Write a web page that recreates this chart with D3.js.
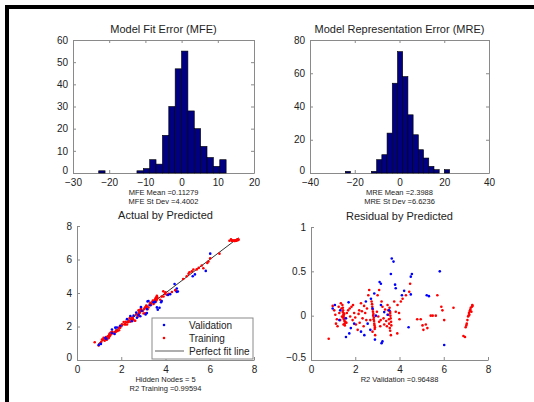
<!DOCTYPE html>
<html>
<head>
<meta charset="utf-8">
<script src="https://cdn.jsdelivr.net/npm/d3@7"></script>
<style>
  html, body { margin: 0; padding: 0; background: #fff; }
  svg { display: block; font-family: "Liberation Sans", Arial, Helvetica, sans-serif; }
</style>
</head>
<body>
<svg id="chart" width="534" height="402"></svg>
<script>
// ---- histogram data (20 equal bins between min and max error) ----
const mfeRange = [-22.9, 12.3];
const mfeCounts = [1, 0, 0, 0, 0, 0, 1, 2, 6, 4, 17, 30, 47, 55, 28, 20, 12, 7, 3, 6];
const mreRange = [-24.2, 22.4];
const mreCounts = [1, 0, 0, 0, 0, 1, 8, 11, 24, 54, 73, 58, 35, 23, 14, 9, 4, 2, 0, 2];

const mfeStats = ["MFE Mean =0.11279", "MFE St Dev =4.4002"];
const mreStats = ["MRE Mean =2.3988", "MRE St Dev =6.6236"];

// ---- network predictions: [predicted, residual] (actual = predicted - residual) ----
const validation = [
  [3.65, 0.645], [3.73, 0.61], [3.61, 0.47], [4.56, 0.47], [4.51, 0.44], [5.82, 0.50],
  [3.10, 0.38], [3.16, 0.36], [3.80, 0.35], [3.83, 0.31], [4.21, 0.28], [4.11, 0.23],
  [4.51, 0.24], [5.23, 0.23], [5.33, 0.22], [2.86, 0.25], [2.48, 0.16], [2.71, 0.19],
  [1.70, 0.15], [1.08, 0.12], [0.98, 0.08], [1.32, 0.06], [3.31, 0.04], [3.53, 0.06],
  [3.46, 0.01], [2.93, 0.00], [1.58, -0.03], [1.95, -0.09], [1.80, -0.14], [2.26, -0.18],
  [2.41, -0.22], [1.73, -0.20], [1.58, -0.24], [2.89, -0.27], [3.23, -0.29], [3.19, -0.31],
  [4.41, -0.13], [6.02, -0.33], [2.68, -0.16], [2.56, -0.09], [1.28, -0.05], [3.16, 0.12],
  [2.78, 0.08]
];
const training = [
  [0.80, -0.26], [0.98, 0.11], [1.05, 0.06], [1.10, 0.01], [1.17, -0.04], [1.13, -0.09],
  [1.20, -0.12], [1.28, 0.03], [1.35, 0.14], [1.38, 0.08], [1.43, 0.045], [1.46, 0.01],
  [1.50, -0.03], [1.55, -0.07], [1.47, -0.10], [1.40, -0.01], [1.32, -0.05], [1.62, 0.03],
  [1.68, 0.06], [1.77, -0.01], [1.83, 0.10], [1.88, -0.05], [1.95, 0.03], [2.03, -0.10],
  [2.11, -0.16], [2.18, 0.06], [2.26, 0.14], [2.33, -0.03], [2.38, -0.12], [2.45, 0.03],
  [2.53, 0.08], [2.59, 0.23], [2.63, 0.29], [2.68, -0.05], [2.74, 0.16], [2.77, 0.10],
  [2.80, 0.045], [2.81, 0.00], [2.83, -0.04], [2.86, -0.09], [2.89, -0.13], [2.78, -0.18],
  [2.90, -0.22], [2.98, 0.045], [3.04, -0.01], [3.08, -0.07], [3.13, -0.12], [3.01, 0.23],
  [3.08, 0.29], [3.19, 0.16], [3.23, 0.10], [3.28, -0.03], [3.31, -0.10], [3.46, 0.12],
  [3.49, 0.06], [3.50, 0.01], [3.52, -0.04], [3.53, -0.09], [3.43, -0.12], [3.58, 0.03],
  [3.61, -0.22], [3.56, -0.14], [3.76, 0.16], [3.83, 0.045], [3.91, 0.12], [3.98, 0.03],
  [4.06, 0.16], [4.14, 0.19], [4.29, 0.23], [4.44, 0.27], [4.48, 0.36], [4.96, -0.04],
  [5.04, -0.11], [5.08, -0.16], [5.19, -0.10], [5.26, -0.14], [5.41, 0.00], [5.64, 0.00],
  [5.71, 0.23], [5.89, 0.10], [5.94, 0.06], [6.02, -0.05], [6.44, 0.09], [6.89, -0.23],
  [6.96, -0.24], [6.99, -0.13], [7.04, -0.09], [7.07, -0.05], [7.10, -0.01], [7.14, 0.03],
  [7.19, 0.06], [7.22, 0.09], [7.29, 0.12], [7.25, 0.045], [7.16, 0.01],
  [1.42, 0.12], [1.44, 0.09], [1.45, 0.06], [1.47, 0.03], [1.48, -0.005], [1.49, -0.04],
  [1.51, -0.06], [1.52, -0.09], [1.53, -0.11], [1.44, -0.02], [1.50, 0.02], [2.76, 0.13],
  [2.79, 0.07], [2.82, 0.02], [2.84, -0.02], [2.85, -0.06], [2.87, -0.11], [2.88, -0.15],
  [3.55, 0.09], [3.57, 0.05], [3.59, 0.00], [3.60, -0.03], [3.62, -0.07], [3.63, -0.11],
  [3.58, -0.17], [7.12, 0.00], [7.18, 0.05], [7.27, 0.10], [7.30, 0.11], [7.02, -0.11],
  [7.20, 0.07], [1.25, 0.10], [1.60, -0.08], [1.90, 0.12], [2.00, -0.02], [2.20, -0.08],
  [2.40, 0.11], [2.15, 0.02], [1.75, 0.08], [2.30, 0.05], [2.50, -0.05], [3.35, 0.07],
  [3.15, -0.05], [3.40, -0.06], [4.00, -0.04], [3.90, -0.20], [4.80, -0.04], [5.50, 0.00]
];
const perfectFit = [0.95, 7.3];

const fitNotes = ["Hidden Nodes = 5", "R2 Training =0.99594"];
const validationNote = ["R2 Validation =0.96488"];
const legendLabels = ["Validation", "Training", "Perfect fit line"];

// ---- styling ----
const axisColor = "#8a8a8a";
const textColor = "#222";
const barFill = "#000080";
const blue = "#0000ff";
const red = "#ff0000";

const svg = d3.select("#chart");

// frame
svg.append("rect").attr("x", 5).attr("y", 5).attr("width", 4).attr("height", 397).attr("fill", "#000");
svg.append("rect").attr("x", 5).attr("y", 5).attr("width", 529).attr("height", 4).attr("fill", "#000");

function styleAxis(g) {
  g.selectAll("path.domain").attr("stroke", axisColor).attr("stroke-width", 1);
  g.selectAll(".tick line").attr("stroke", axisColor);
  g.selectAll(".tick text").attr("fill", textColor).attr("font-size", 10);
}

function axes(box, xDomain, yDomain, xTicks, yTicks, boxed, yFmt) {
  const x = d3.scaleLinear().domain(xDomain).range([box.x0, box.x1]);
  const y = d3.scaleLinear().domain(yDomain).range([box.y1, box.y0]);
  const g = svg.append("g");
  const gx = g.append("g").attr("transform", `translate(0,${box.y1})`)
    .call(d3.axisBottom(x).tickValues(xTicks).tickSizeInner(-3).tickSizeOuter(0).tickPadding(6).tickFormat(d3.format("d")));
  const gy = g.append("g").attr("transform", `translate(${box.x0},0)`)
    .call(d3.axisLeft(y).tickValues(yTicks).tickSizeInner(-3).tickSizeOuter(0).tickPadding(5).tickFormat(yFmt || d3.format("d")));
  styleAxis(gx); styleAxis(gy);
  // lowest y label sits just above the corner, clear of the x labels
  gy.selectAll(".tick text").filter(d => d === yDomain[0]).attr("dy", "0.05em");
  if (boxed) {
    const gt = g.append("g").attr("transform", `translate(0,${box.y0})`)
      .call(d3.axisTop(x).tickValues(xTicks).tickSizeInner(-3).tickSizeOuter(0).tickFormat(""));
    const gr = g.append("g").attr("transform", `translate(${box.x1},0)`)
      .call(d3.axisRight(y).tickValues(yTicks).tickSizeInner(-3).tickSizeOuter(0).tickFormat(""));
    styleAxis(gt); styleAxis(gr);
  }
  return { x, y };
}

function title(text, cx, yBase) {
  svg.append("text").attr("x", cx).attr("y", yBase).attr("text-anchor", "middle")
    .attr("font-size", 11).attr("fill", textColor).text(text);
}

function notes(lines, cx, yBase) {
  lines.forEach((t, i) => {
    svg.append("text").attr("x", cx).attr("y", yBase + i * 8.5).attr("text-anchor", "middle")
      .attr("font-size", 7.5).attr("fill", textColor).text(t);
  });
}

function histogram(box, range, counts, xDomain, yDomain, xTicks, yTicks) {
  const s = axes(box, xDomain, yDomain, xTicks, yTicks, true);
  const w = (range[1] - range[0]) / counts.length;
  svg.append("g").selectAll("rect").data(counts).join("rect")
    .attr("x", (d, i) => s.x(range[0] + i * w))
    .attr("width", (d, i) => s.x(range[0] + (i + 1) * w) - s.x(range[0] + i * w))
    .attr("y", d => s.y(d))
    .attr("height", d => s.y(0) - s.y(d))
    .attr("fill", barFill).attr("stroke", "#000").attr("stroke-width", 0.6)
    .attr("display", d => d > 0 ? null : "none");
}

// ---- top left: Model Fit Error histogram ----
const b1 = { x0: 73, x1: 254, y0: 40, y1: 173 };
histogram(b1, mfeRange, mfeCounts, [-30, 20], [0, 60], d3.range(-30, 21, 10), d3.range(0, 61, 10));
title("Model Fit Error (MFE)", (b1.x0 + b1.x1) / 2, 33);
notes(mfeStats, (b1.x0 + b1.x1) / 2, 195);

// ---- top right: Model Representation Error histogram ----
const b2 = { x0: 310, x1: 489, y0: 40, y1: 173 };
histogram(b2, mreRange, mreCounts, [-40, 40], [0, 80], d3.range(-40, 41, 20), d3.range(0, 81, 20));
title("Model Representation Error (MRE)", (b2.x0 + b2.x1) / 2, 33);
notes(mreStats, (b2.x0 + b2.x1) / 2, 195);

// ---- bottom left: Actual by Predicted ----
const b3 = { x0: 77, x1: 254, y0: 226, y1: 360 };
const s3 = axes(b3, [0, 8], [0, 8], d3.range(0, 9, 2), d3.range(0, 9, 2), false);
svg.append("line")
  .attr("x1", s3.x(perfectFit[0])).attr("y1", s3.y(perfectFit[0]))
  .attr("x2", s3.x(perfectFit[1])).attr("y2", s3.y(perfectFit[1]))
  .attr("stroke", "#333").attr("stroke-width", 1);
svg.append("g").selectAll("circle").data(training).join("circle")
  .attr("cx", d => s3.x(d[0])).attr("cy", d => s3.y(d[0] - d[1])).attr("r", 1.3).attr("fill", red);
svg.append("g").selectAll("circle").data(validation).join("circle")
  .attr("cx", d => s3.x(d[0])).attr("cy", d => s3.y(d[0] - d[1])).attr("r", 1.3).attr("fill", blue);
title("Actual by Predicted", (b3.x0 + b3.x1) / 2, 219);
notes(fitNotes, (b3.x0 + b3.x1) / 2, 382);

// legend
const lg = svg.append("g").attr("transform", "translate(152,318)");
lg.append("rect").attr("width", 101).attr("height", 41).attr("fill", "#fff").attr("stroke", axisColor);
legendLabels.forEach((t, i) => {
  const yy = 7 + i * 13;
  if (i < 2) {
    lg.append("circle").attr("cx", 12).attr("cy", yy).attr("r", 1.3).attr("fill", i === 0 ? blue : red);
  } else {
    lg.append("line").attr("x1", 3).attr("x2", 32).attr("y1", yy).attr("y2", yy)
      .attr("stroke", "#777").attr("stroke-width", 1.2);
  }
  lg.append("text").attr("x", 37).attr("y", yy + 3.5).attr("font-size", 10).attr("fill", textColor).text(t);
});

// ---- bottom right: Residual by Predicted ----
const b4 = { x0: 311, x1: 488, y0: 227, y1: 360 };
const s4 = axes(b4, [0, 8], [-0.5, 1], d3.range(0, 9, 2), [-0.5, 0, 0.5, 1], false, d3.format("~g"));
svg.append("g").selectAll("circle").data(training).join("circle")
  .attr("cx", d => s4.x(d[0])).attr("cy", d => s4.y(d[1])).attr("r", 1.3).attr("fill", red);
svg.append("g").selectAll("circle").data(validation).join("circle")
  .attr("cx", d => s4.x(d[0])).attr("cy", d => s4.y(d[1])).attr("r", 1.3).attr("fill", blue);
title("Residual by Predicted", (b4.x0 + b4.x1) / 2, 220);
notes(validationNote, (b4.x0 + b4.x1) / 2, 382);
</script>
</body>
</html>
